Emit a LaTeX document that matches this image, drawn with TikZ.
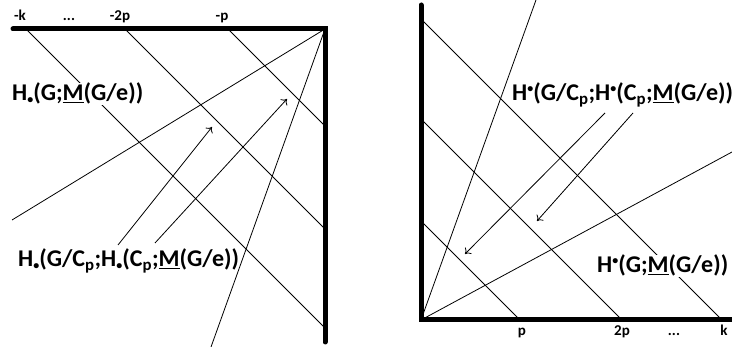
\documentclass[tikz,border=0pt]{standalone}
\usepackage{fontspec}
\setmainfont{Carlito}
\usetikzlibrary{arrows.meta}
\newcommand{\subdot}{\raisebox{-2.5pt}{\fontsize{12}{12}\selectfont •}}
\newcommand{\supdot}{\raisebox{8.5pt}{\fontsize{12}{12}\selectfont •}}

\begin{document}
\begin{tikzpicture}[
  x=1pt, y=-1pt,
  axis/.style={line width=5pt, line cap=round},
  ray/.style={line width=0.8pt},
  ptr/.style={line width=0.8pt, -{To[length=5pt,width=9pt]}},
  lbl/.style={font=\bfseries\fontsize{24}{26}\selectfont, inner sep=0pt, anchor=base west},
  tick/.style={font=\bfseries\fontsize{15}{17}\selectfont, inner sep=0pt, anchor=base}
]
\useasboundingbox (0,0) rectangle (732,347);

% left panel: homology
\coordinate (cL) at (325,29);
\coordinate (lA) at (13,29);
\coordinate (lB) at (325,342);
\draw[axis] (lA) -- (cL) -- (lB);

\coordinate (mk) at (26,29);
\coordinate (m2p) at (125,29);
\coordinate (mp) at (228,29);
\coordinate (ek) at (325,328);
\coordinate (e2p) at (325,229);
\coordinate (ep) at (325,126);
\draw[ray] (mk) -- (ek);
\draw[ray] (m2p) -- (e2p);
\draw[ray] (mp) -- (ep);

\coordinate (fl) at (12,220);
\coordinate (sl) at (211,347);
\draw[ray] (cL) -- (fl);
\draw[ray] (cL) -- (sl);

\node[tick] (tk) at (20,21) {-k};
\node[tick] (td) at (69,21) {...};
\node[tick] (t2p) at (120,21) {-2p};
\node[tick] (tp) at (222,21) {-p};

\node[lbl, fill=white] (hom) at (12,101) {H\subdot(G;\underline{M}(G/e))};
\node[lbl] (homcp) at (18,267) {H\subdot(G/C\textsubscript{p};H\subdot(C\textsubscript{p};\underline{M}(G/e))};

\coordinate (a1s) at (118,245);
\coordinate (a1e) at (212,127);
\coordinate (a2s) at (155,243);
\coordinate (a2e) at (287,99);
\draw[ptr] (a1s) -- (a1e);
\draw[ptr] (a2s) -- (a2e);

% right panel: cohomology
\coordinate (cR) at (421,320);
\coordinate (rA) at (421,5);
\coordinate (rB) at (735,320);
\draw[axis] (rA) -- (cR) -- (rB);

\coordinate (bp) at (520,320);
\coordinate (b2p) at (622,320);
\coordinate (bk) at (722,320);
\coordinate (vp) at (421,221);
\coordinate (v2p) at (421,119);
\coordinate (vk) at (421,19);
\draw[ray] (bp) -- (vp);
\draw[ray] (b2p) -- (v2p);
\draw[ray] (bk) -- (vk);

\coordinate (fr) at (732,152);
\coordinate (sr) at (536,0);
\draw[ray] (cR) -- (fr);
\draw[ray] (cR) -- (sr);

\node[tick] (up) at (522,336) {p};
\node[tick] (u2p) at (622,336) {2p};
\node[tick] (ud) at (674,336) {...};
\node[tick] (uk) at (724,336) {k};

\node[lbl] (cohcp) at (512,101) {H\supdot(G/C\textsubscript{p};H\supdot(C\textsubscript{p};\underline{M}(G/e))};
\node[lbl, fill=white] (coh) at (597,273) {H\supdot(G;\underline{M}(G/e))};

\coordinate (b1s) at (605,113);
\coordinate (b1e) at (465,254);
\coordinate (b2s) at (633,113);
\coordinate (b2e) at (537,221);
\draw[ptr] (b1s) -- (b1e);
\draw[ptr] (b2s) -- (b2e);

\end{tikzpicture}
\end{document}
